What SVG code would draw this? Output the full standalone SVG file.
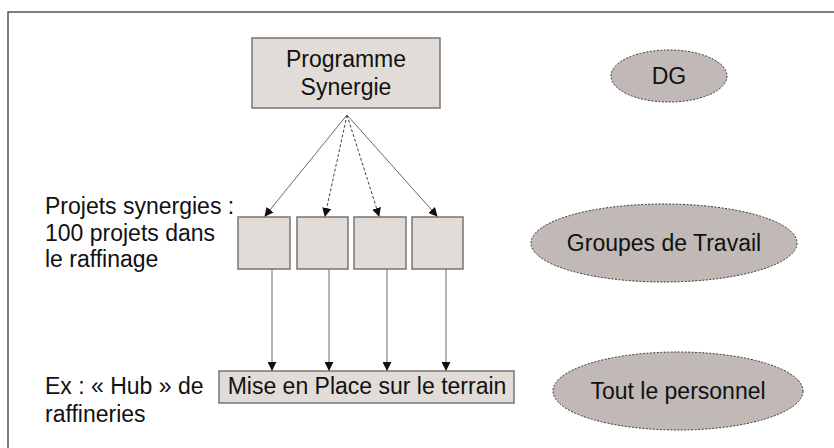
<svg xmlns="http://www.w3.org/2000/svg" width="834" height="448" viewBox="0 0 834 448">
<defs>
<style>
text{font-family:"Liberation Sans",Arial,sans-serif;fill:#111;}
.t{font-size:23px;}
.box{fill:#e1dcd8;stroke:#7a7472;stroke-width:1.5;}
.ell{fill:#c0b9b5;stroke:#333;stroke-width:1;stroke-dasharray:2 1.5;}
.c{fill:none;stroke:#6e6a68;stroke-width:1;}
.d{stroke-dasharray:3 2;stroke:#444;}
</style>
<marker id="ah" viewBox="0 0 10 10" refX="9" refY="5" markerWidth="9" markerHeight="9" markerUnits="userSpaceOnUse" orient="auto">
<path d="M0,0 L10,5 L0,10 z" fill="#111"/>
</marker>
</defs>
<rect width="834" height="448" fill="#fff"/>
<path d="M8,450 L8,12 L836,12" fill="none" stroke="#555" stroke-width="1.5"/>
<g id="programme">
<rect class="box" x="252" y="38" width="188" height="70"/>
<text class="t" x="346" y="67" text-anchor="middle">Programme</text>
<text class="t" x="346" y="95" text-anchor="middle">Synergie</text>
</g>
<g id="projet1"><rect class="box" x="238" y="217" width="52" height="52"/></g>
<g id="projet2"><rect class="box" x="297" y="217" width="51" height="52"/></g>
<g id="projet3"><rect class="box" x="354" y="217" width="52" height="52"/></g>
<g id="projet4"><rect class="box" x="412" y="217" width="51" height="52"/></g>
<g id="terrain">
<rect class="box" x="219" y="371" width="295" height="32"/>
<text class="t" x="367" y="394" text-anchor="middle">Mise en Place sur le terrain</text>
</g>
<g id="label-projets">
<text class="t" x="45" y="214">Projets synergies :</text>
<text class="t" x="45" y="241">100 projets dans</text>
<text class="t" x="45" y="267">le raffinage</text>
</g>
<g id="label-hub">
<text class="t" x="45" y="394">Ex : « Hub » de</text>
<text class="t" x="45" y="422">raffineries</text>
</g>
<g id="dg">
<ellipse class="ell" cx="669" cy="76" rx="58" ry="26"/>
<text class="t" x="669" y="84" text-anchor="middle">DG</text>
</g>
<g id="groupes">
<ellipse class="ell" cx="664" cy="243" rx="133" ry="39"/>
<text class="t" x="664" y="251" text-anchor="middle">Groupes de Travail</text>
</g>
<g id="personnel">
<ellipse class="ell" cx="678" cy="391" rx="125" ry="39"/>
<text class="t" x="678" y="399" text-anchor="middle">Tout le personnel</text>
</g>
<g id="connectors">
<line class="c" x1="347" y1="115" x2="265" y2="216" marker-end="url(#ah)"/>
<line class="c d" x1="347" y1="115" x2="325" y2="216" marker-end="url(#ah)"/>
<line class="c d" x1="347" y1="115" x2="379" y2="216" marker-end="url(#ah)"/>
<line class="c" x1="347" y1="115" x2="437" y2="216" marker-end="url(#ah)"/>
<line class="c" x1="272" y1="269" x2="272" y2="370" marker-end="url(#ah)"/>
<line class="c" x1="329" y1="269" x2="329" y2="370" marker-end="url(#ah)"/>
<line class="c" x1="387" y1="269" x2="387" y2="370" marker-end="url(#ah)"/>
<line class="c" x1="446" y1="269" x2="446" y2="370" marker-end="url(#ah)"/>
</g>
</svg>
